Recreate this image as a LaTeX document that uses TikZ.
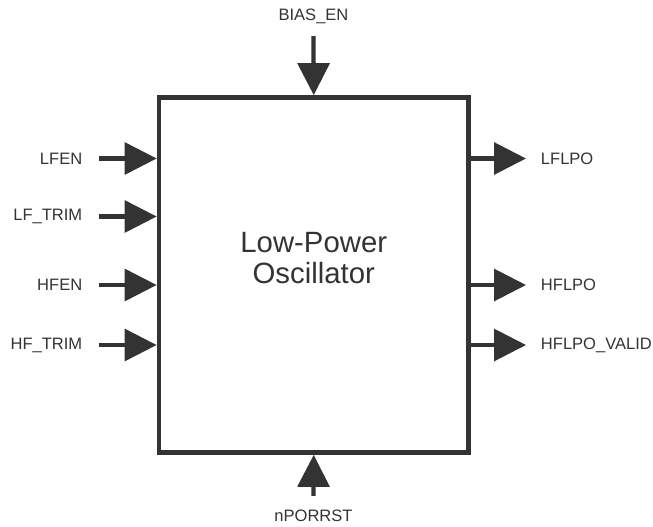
\documentclass[tikz,border=0pt]{standalone}
\usepackage{fontspec}
\setmainfont{Liberation Sans}
\usetikzlibrary{arrows.meta,positioning}
\definecolor{wire}{HTML}{333333}

\begin{document}
\begin{tikzpicture}[x=0.75pt,y=-0.75pt,
    pin/.style={draw=wire,line width=3.2pt,-{Triangle[length=24pt,width=23.7pt]}},
    lbl/.style={font=\fontsize{12.4}{14}\selectfont,text=wire,inner sep=0pt}]
    \useasboundingbox (0,0) rectangle (653,526);
    % the block
    \node[draw=wire, line width=3.5pt, minimum width=232.1pt, minimum height=266.25pt] (osc) at (313.75,275) {};
    \node[font=\fontsize{22}{23}\selectfont, text=wire, align=center] (title) at (313.75,258) {Low-Power\\Oscillator};
    % inputs
    \foreach \name/\txt/\y in {lfen/LFEN/158.5, lftrim/LF\_TRIM/216.5, hfen/HFEN/285, hftrim/HF\_TRIM/345} {
        \node[lbl, anchor=east] (\name) at (82.5,\y) {\txt};
        \draw[pin] ([xshift=12.5pt]\name.east) -- (\name.east -| osc.west);
    }
    % outputs
    \foreach \name/\txt/\y in {lflpo/LFLPO/158.5, hflpo/HFLPO/285, hfvalid/HFLPO\_VALID/345} {
        \node[lbl, anchor=west] (\name) at (540.7,\y) {\txt};
        \draw[pin] (\name.west -| osc.east) -- ([xshift=-11pt]\name.west);
    }
    % top and bottom
    \node[lbl, anchor=base] (biasen) at (313.5,20) {BIAS\_EN};
    \draw[pin] ([yshift=-12pt]biasen.base) -- (osc.north);
    \node[lbl, anchor=base] (nporrst) at (313.5,521.5) {nPORRST};
    \draw[pin] ([yshift=19.3pt]nporrst.base) -- (osc.south);
\end{tikzpicture}
\end{document}
